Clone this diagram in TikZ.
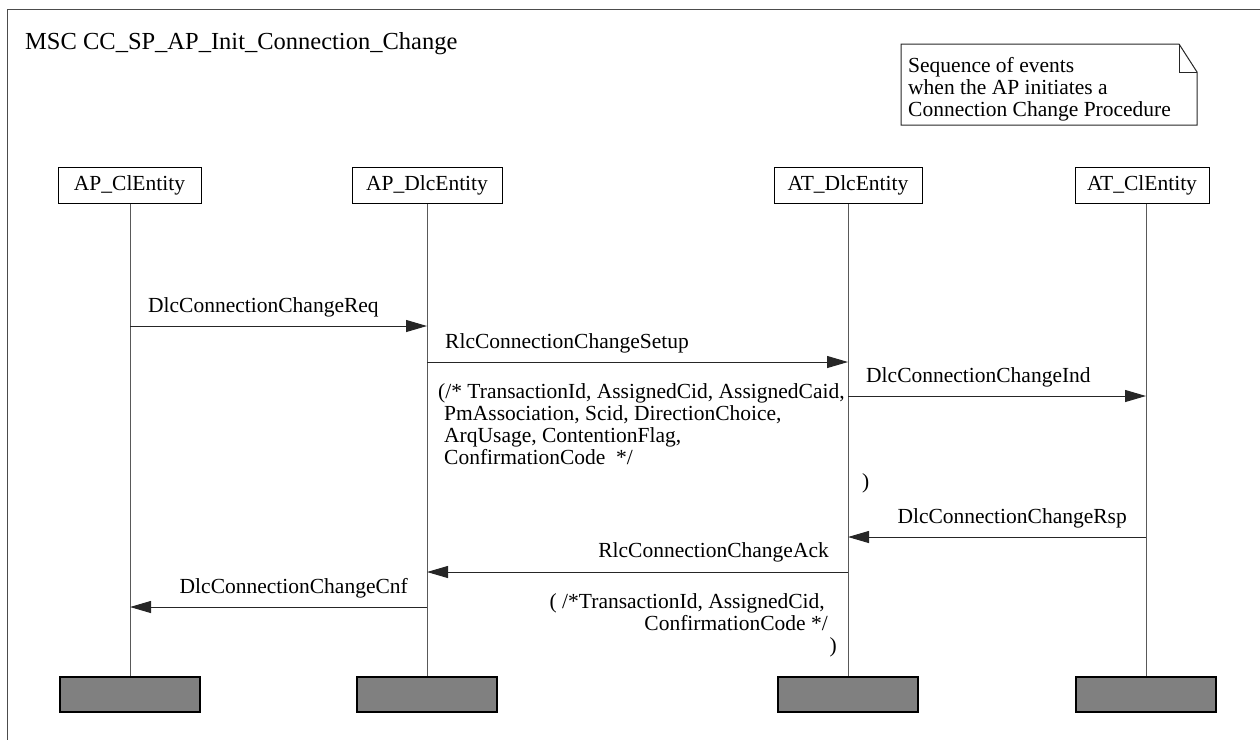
\documentclass[tikz,border=0pt]{standalone}
\usepackage{fontspec}
\setmainfont{Liberation Serif}
\usetikzlibrary{arrows.meta}
\begin{document}
\begin{tikzpicture}[x=1pt,y=-1pt,
  txt/.style={inner sep=0pt, font=\fontsize{21.5}{22}\selectfont},
  ent/.style={txt, draw=black, line width=1pt, fill=white, minimum height=36pt},
  endbox/.style={draw=black, line width=1.3pt, fill=black!50, inner sep=0pt, minimum height=35pt, minimum width=140pt},
  life/.style={draw=black!65, line width=1pt},
  msg/.style={draw=black!85, line width=1pt, -{Triangle[length=21pt,width=12pt]}},
  frame/.style={draw=black!70, line width=1pt},
]
\useasboundingbox (0,0) rectangle (1260,740);
\draw[frame] (1260,9) -- (7,9) -- (7,740);

% title
\node[inner sep=0pt, anchor=base west, font=\fontsize{24.5}{26}\selectfont] (title) at (25,49) {MSC CC\_SP\_AP\_Init\_Connection\_Change};

% note
\draw[line width=1pt, draw=black!85] (901,44) -- (1179,44) -- (1197,72) -- (1197,125) -- (901,125) -- cycle;
\draw[line width=1pt, draw=black!85] (1179,44) -- (1179,72) -- (1197,72);
\node[txt, anchor=base west] (note) at (908,72) {\begin{tabular}[t]{@{}l@{}}Sequence of events\\when the AP initiates a\\Connection Change Procedure\end{tabular}};

% entity heads
\node[ent, minimum width=143pt] (apcl) at (129.5,185) {AP\_ClEntity};
\node[ent, minimum width=150pt] (apdlc) at (427,185) {AP\_DlcEntity};
\node[ent, minimum width=148pt] (atdlc) at (848,185) {AT\_DlcEntity};
\node[ent, minimum width=134pt] (atcl) at (1142,185) {AT\_ClEntity};

% end boxes
\node[endbox] (apclend) at (130,694.5) {};
\node[endbox] (apdlcend) at (427,694.5) {};
\node[endbox] (atdlcend) at (848,694.5) {};
\node[endbox] (atclend) at (1146,694.5) {};

% lifelines
\draw[life] (apclend |- apcl.south) -- (apclend.north);
\draw[life] (apdlcend |- apdlc.south) -- (apdlcend.north);
\draw[life] (atdlcend |- atdlc.south) -- (atdlcend.north);
\draw[life] (atclend |- atcl.south) -- (atclend.north);

% messages
\draw[msg] (apclend |- 0,326) -- (apdlcend |- 0,326);
\node[txt, anchor=base west] (l1) at (148,312) {DlcConnectionChangeReq};

\draw[msg] (apdlcend |- 0,362) -- (atdlcend |- 0,362);
\node[txt, anchor=base west] (l2) at (445,348) {RlcConnectionChangeSetup};
\node[txt, anchor=base west] (p1) at (438,398) {\begin{tabular}[t]{@{}l@{}}(/* TransactionId, AssignedCid, AssignedCaid,\\\hspace*{6pt}PmAssociation, Scid, DirectionChoice,\\\hspace*{6pt}ArqUsage, ContentionFlag,\\\hspace*{6pt}ConfirmationCode\ \ */\end{tabular}};

\draw[msg] (atdlcend |- 0,396) -- (atclend |- 0,396);
\node[txt, anchor=base west] (l3) at (866,382) {DlcConnectionChangeInd};
\node[txt, anchor=base west] (cp1) at (862,488) {)};

\draw[msg] (atclend |- 0,537) -- (atdlcend |- 0,537);
\node[txt, anchor=base east] (l4) at (1127,523) {DlcConnectionChangeRsp};

\draw[msg] (atdlcend |- 0,572) -- (apdlcend |- 0,572);
\node[txt, anchor=base east] (l5) at (829,557) {RlcConnectionChangeAck};
\node[txt, anchor=base east] (p2) at (837,608) {\begin{tabular}[t]{@{}r@{}}( /*TransactionId, AssignedCid,\hspace*{12pt}\\ConfirmationCode */\hspace*{9pt}\\)\end{tabular}};

\draw[msg] (apdlcend |- 0,607) -- (apclend |- 0,607);
\node[txt, anchor=base east] (l6) at (408,593) {DlcConnectionChangeCnf};
\end{tikzpicture}
\end{document}
